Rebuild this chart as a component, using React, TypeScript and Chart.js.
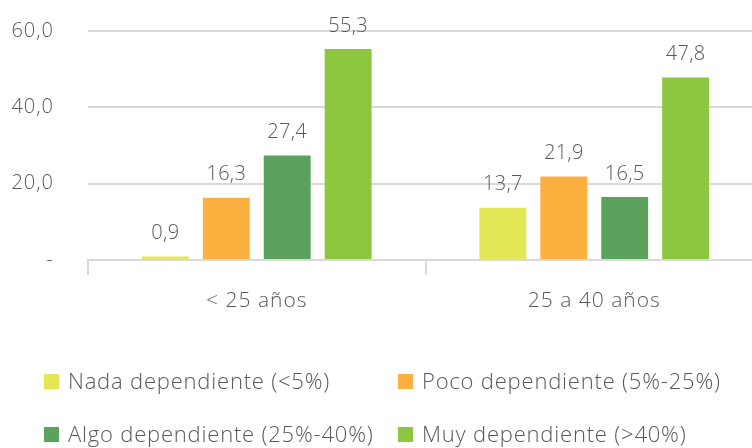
import React, { useEffect, useRef } from "react";
import { Chart, registerables } from "chart.js";

Chart.register(...registerables);

const categories = ["< 25 años", "25 a 40 años"];
const seriesNames = [
  "Nada dependiente (<5%)",
  "Poco dependiente (5%-25%)",
  "Algo dependiente (25%-40%)",
  "Muy dependiente (>40%)",
];
const nada = [0.9, 13.7];
const poco = [16.3, 21.9];
const algo = [27.4, 16.5];
const muy = [55.3, 47.8];
const seriesColors = ["#E3E655", "#FBB040", "#5BA35C", "#8DC63F"];
const yTicks = [0, 20, 40, 60];

const FONT = "'Open Sans', 'Noto Sans', sans-serif";
const TEXT = "#595959";
const GRID = "#d9d9d9";

const fmt = (v: number) => (v === 0 ? "-" : v.toFixed(1).replace(".", ","));

const spacing = {
  id: "spacing",
  beforeDraw(chart: any) {
    chart.ctx.letterSpacing = "1px";
  },
  beforeDatasetsDraw(chart: any) {
    chart.ctx.letterSpacing = "0px";
  },
};

const valueLabels = {
  id: "valueLabels",
  afterDatasetsDraw(chart: any) {
    const ctx = chart.ctx;
    ctx.save();
    ctx.letterSpacing = "0.3px";
    ctx.font = `300 20px ${FONT}`;
    ctx.fillStyle = TEXT;
    ctx.textAlign = "center";
    ctx.textBaseline = "middle";
    chart.data.datasets.forEach((ds: any, i: number) => {
      const meta = chart.getDatasetMeta(i);
      meta.data.forEach((el: any, j: number) => {
        ctx.fillText(fmt(ds.data[j]), el.x, el.y - 23);
      });
    });
    ctx.restore();
  },
};

const gridLegend = {
  id: "gridLegend",
  afterDraw(chart: any) {
    const ctx = chart.ctx;
    const colX = [44, 398];
    const rowY = [381.5, 434.5];
    const box = 15;
    ctx.save();
    ctx.letterSpacing = "0.8px";
    ctx.font = `300 22px ${FONT}`;
    ctx.textBaseline = "middle";
    ctx.textAlign = "left";
    chart.data.datasets.forEach((ds: any, i: number) => {
      const x = colX[i % 2];
      const y = rowY[Math.floor(i / 2)];
      ctx.fillStyle = ds.backgroundColor;
      ctx.fillRect(x, y - box / 2, box, box);
      ctx.fillStyle = TEXT;
      ctx.fillText(ds.label, x + 24, y + 1);
    });
    ctx.restore();
  },
};

export default function App() {
  const ref = useRef<HTMLCanvasElement>(null);
  useEffect(() => {
    if (!ref.current) return;
    const data = [nada, poco, algo, muy];
    const chart = new Chart(ref.current, {
      type: "bar",
      data: {
        labels: categories,
        datasets: seriesNames.map((name, i) => ({
          label: name,
          data: data[i],
          backgroundColor: seriesColors[i],
          categoryPercentage: 0.722,
          barPercentage: 0.77,
        })),
      },
      options: {
        responsive: false,
        animation: false,
        devicePixelRatio: 1,
        layout: { padding: { top: 31, right: 12, bottom: 138, left: 0 } },
        plugins: {
          legend: { display: false },
          tooltip: { enabled: false },
        },
        scales: {
          x: {
            grid: {
              offset: true,
              drawOnChartArea: false,
              drawTicks: true,
              tickLength: 15,
              color: GRID,
              lineWidth: 2,
            },
            border: { color: GRID, width: 2 },
            ticks: {
              color: TEXT,
              font: { family: FONT, size: 21, weight: "300" },
              padding: 13,
            },
            afterFit: (s: any) => {
              s.height = 50;
              s.paddingLeft = 0;
              s.paddingRight = 0;
            },
          },
          y: {
            min: 0,
            max: 60,
            afterBuildTicks: (s: any) => {
              s.ticks = yTicks.map((v) => ({ value: v }));
            },
            grid: { color: GRID, lineWidth: 2, drawTicks: false },
            border: { display: false },
            ticks: {
              color: TEXT,
              font: { family: FONT, size: 20, weight: "300" },
              padding: 34,
              callback: (v: any) => fmt(Number(v)),
            },
            afterFit: (s: any) => {
              s.width = 88;
              s.paddingTop = 0;
              s.paddingBottom = 0;
            },
          },
        },
      },
      plugins: [spacing, valueLabels, gridLegend],
    });
    return () => chart.destroy();
  }, []);
  return (
    <div
      style={{
        position: "fixed",
        left: 0,
        top: 0,
        width: 752,
        height: 448,
        overflow: "hidden",
        background: "#fff",
      }}
    >
      <canvas ref={ref} width={775} height={448} />
    </div>
  );
}
